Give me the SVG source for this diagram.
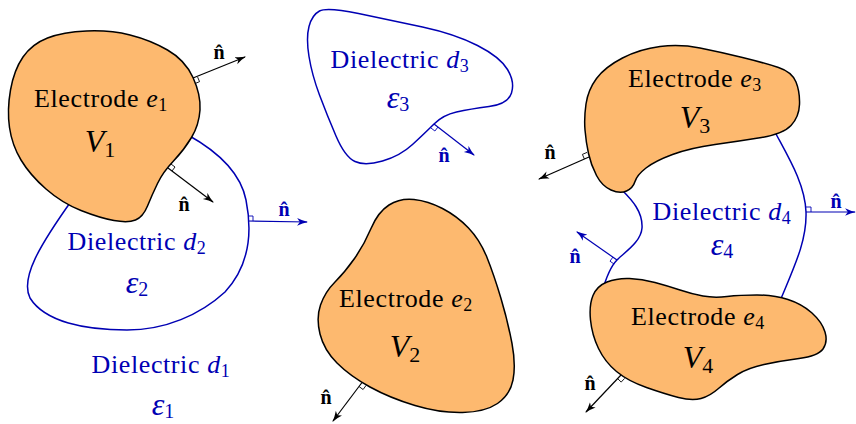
<svg xmlns="http://www.w3.org/2000/svg" width="856" height="424" viewBox="0 0 856 424" font-family="'Liberation Serif', 'DejaVu Serif', serif">
<style>
.el{fill:#fdb96f;stroke:#000;stroke-width:1.5;stroke-linejoin:round}
.di{fill:none;stroke:#0000b3;stroke-width:1.5}
.t{font-size:26px;text-anchor:middle;letter-spacing:0.6px}
.v{font-size:32px;text-anchor:middle}
.k{fill:#000}
.b{fill:#0000b3}
.i{font-style:italic}
.n{font-size:20px;font-weight:bold;text-anchor:middle}
.nk{fill:none;stroke:#000;stroke-width:1.2}
.nb{fill:none;stroke:#0000b3;stroke-width:1.2}
.sq{fill:none;stroke-width:0.9}
</style>
<defs>
<marker id="ak" viewBox="0 0 10 8" refX="9" refY="4" markerWidth="11" markerHeight="9" markerUnits="userSpaceOnUse" orient="auto"><path d="M0,0.5 Q5,3 10,4 Q5,5 0,7.5 L2.5,4 z" fill="#000"/></marker>
<marker id="ab" viewBox="0 0 10 8" refX="9" refY="4" markerWidth="11" markerHeight="9" markerUnits="userSpaceOnUse" orient="auto"><path d="M0,0.5 Q5,3 10,4 Q5,5 0,7.5 L2.5,4 z" fill="#0000b3"/></marker>
</defs>

<g id="d2">
<path class="di" d="M188,135 C215,150 240,170 246,200 C252,230 250,265 225,292 C200,315 165,330 127,330 C85,330 45,322 30,298 C20,278 40,245 72,200"/>
<text class="t b" x="137" y="250">Dielectric <tspan class="i">d</tspan><tspan font-size="18" dy="4">2</tspan></text>
<text class="v b" x="137" y="293" font-size="28"><tspan class="i">ε</tspan><tspan font-size="20" dy="3">2</tspan></text>
</g>

<g id="d4">
<path class="di" d="M622,190 C632,200 643,212 642,228 C641,242 625,252 617,260 C610,267 606,278 602,292"/>
<path class="di" d="M776,134 C790,160 805,185 806,212 C807,240 795,265 780,301"/>
<text class="t b" x="722" y="220">Dielectric <tspan class="i">d</tspan><tspan font-size="18" dy="4">4</tspan></text>
<text class="v b" x="722" y="255" font-size="28"><tspan class="i">ε</tspan><tspan font-size="20" dy="3">4</tspan></text>
</g>

<g id="e1">
<path class="el" d="M47.5,38 Q63,32 86.5,31 Q110,30 130,35 Q150,40 167.5,50 Q185,60 193,77.5 Q201,95 200,110 Q199,125 191.5,137.5 Q184,150 173.5,161 Q163,172 157.5,183.5 Q152,195 147.5,206 Q143,217 135.5,220 Q128,223 114,220.5 Q100,218 81,210.5 Q62,203 46,189 Q30,175 21,160 Q12,145 9.5,127.5 Q7,110 10.5,90 Q14,70 23,57 Q32,44 47.5,38 Z"/>
<text class="t k" x="101" y="107">Electrode <tspan class="i">e</tspan><tspan font-size="18" dy="4">1</tspan></text>
<text class="v k" x="100" y="152"><tspan class="i">V</tspan><tspan font-size="22" dy="5">1</tspan></text>
</g>

<g id="e2">
<path class="el" d="M414,199.5 Q400,198 389,205 Q378,212 371,228.5 Q364,245 354.5,258.5 Q345,272 335,282 Q325,292 320.5,305 Q316,318 320,334 Q324,350 337,363 Q350,376 370,387 Q390,398 415,405.5 Q440,413 462.5,412.5 Q485,412 497.5,403.5 Q510,395 513,380 Q516,365 512,343.5 Q508,322 501,298.5 Q494,275 487,257.5 Q480,240 468.5,228 Q457,216 442.5,208.5 Q428,201 414,199.5 Z"/>
<text class="t k" x="406" y="307">Electrode <tspan class="i">e</tspan><tspan font-size="18" dy="4">2</tspan></text>
<text class="v k" x="405" y="357"><tspan class="i">V</tspan><tspan font-size="22" dy="5">2</tspan></text>
</g>

<g id="e3">
<path class="el" d="M585,130 Q584,118 586,104 Q588,90 596.5,78.5 Q605,67 622.5,58 Q640,49 660,46.5 Q680,44 700,48 Q720,52 742.5,57.5 Q765,63 778.5,67.5 Q792,72 796,82 Q800,92 799.5,104.5 Q799,117 791,125.5 Q783,134 761.5,137.5 Q740,141 715,144.5 Q690,148 672.5,154.5 Q655,161 646,168 Q637,175 635,181.5 Q633,188 626.5,191 Q620,194 611,190 Q602,186 596.5,175.5 Q591,165 588.5,153.5 Q586,142 585,130 Z"/>
<text class="t k" x="695" y="87">Electrode <tspan class="i">e</tspan><tspan font-size="18" dy="4">3</tspan></text>
<text class="v k" x="695" y="128"><tspan class="i">V</tspan><tspan font-size="22" dy="5">3</tspan></text>
</g>

<g id="e4">
<path class="el" d="M590.5,320 Q589,305 593,295.5 Q597,286 607,282 Q617,278 629.5,278.5 Q642,279 655,282.5 Q668,286 680,290 Q692,294 703,296 Q714,298 727,296.5 Q740,295 757,295 Q774,295 788,299.5 Q802,304 812,313 Q822,322 825,332 Q828,342 823,349 Q818,356 799,358.5 Q780,361 764,364.5 Q748,368 737.5,374.5 Q727,381 718.5,388.5 Q710,396 701,398.5 Q692,401 678.5,397.5 Q665,394 646.5,387.5 Q628,381 616.5,371.5 Q605,362 598.5,348.5 Q592,335 590.5,320 Z"/>
<text class="t k" x="698" y="325">Electrode <tspan class="i">e</tspan><tspan font-size="18" dy="4">4</tspan></text>
<text class="v k" x="698" y="368"><tspan class="i">V</tspan><tspan font-size="22" dy="5">4</tspan></text>
</g>

<g id="d3">
<path class="di" d="M319.5,11 Q327,7 358.5,13.5 Q390,20 422.5,27 Q455,34 477.5,45.5 Q500,57 507.5,69.5 Q515,82 511.5,93 Q508,104 489,106.5 Q470,109 456.5,112 Q443,115 434,124 Q425,133 412.5,144.5 Q400,156 382.5,161 Q365,166 355,161.5 Q345,157 336,136 Q327,115 319.5,95 Q312,75 309,56.5 Q306,38 309,26.5 Q312,15 319.5,11 Z"/>
<text class="t b" x="400" y="68">Dielectric <tspan class="i">d</tspan><tspan font-size="18" dy="4">3</tspan></text>
<text class="v b" x="398" y="108" font-size="28"><tspan class="i">ε</tspan><tspan font-size="20" dy="3">3</tspan></text>
</g>

<g id="d1">
<text class="t b" x="161" y="373">Dielectric <tspan class="i">d</tspan><tspan font-size="18" dy="4">1</tspan></text>
<text class="v b" x="163" y="415" font-size="28"><tspan class="i">ε</tspan><tspan font-size="20" dy="3">1</tspan></text>
</g>

<g id="connectors">
<line class="nk" x1="193" y1="78" x2="245" y2="57" marker-end="url(#ak)"/>
<path class="sq" stroke="#000" d="M197.6,77.05 L199.55,81.65 L194.95,83.6"/>
<text class="n k" x="219" y="59">n̂</text>

<line class="nk" x1="168" y1="168" x2="213" y2="202" marker-end="url(#ak)"/>
<path class="sq" stroke="#000" d="M172,171 L175,167 L171,164"/>
<text class="n k" x="184" y="211">n̂</text>

<line class="nb" x1="248" y1="221" x2="307" y2="222" marker-end="url(#ab)"/>
<path class="sq" stroke="#0000b3" d="M253,221 L253,216 L248,216"/>
<text class="n b" x="284" y="216">n̂</text>

<line class="nb" x1="434" y1="124" x2="474" y2="155" marker-end="url(#ab)"/>
<path class="sq" stroke="#0000b3" d="M437.95,127.07 L434.9,131 L430.9,127.95"/>
<text class="n b" x="444" y="162">n̂</text>

<line class="nk" x1="362" y1="382.5" x2="333" y2="421" marker-end="url(#ak)"/>
<path class="sq" stroke="#000" d="M359.1,386.6 L363.1,389.5 L366.1,385.4"/>
<text class="n k" x="326" y="404">n̂</text>

<line class="nk" x1="589" y1="157" x2="539" y2="179" marker-end="url(#ak)"/>
<path class="sq" stroke="#000" d="M584.4,159 L582.4,154.4 L587,152.4"/>
<text class="n k" x="550" y="159">n̂</text>

<line class="nb" x1="806" y1="212" x2="855" y2="212" marker-end="url(#ab)"/>
<path class="sq" stroke="#0000b3" d="M811,212 L811,207 L806,207"/>
<text class="n b" x="836" y="208">n̂</text>

<line class="nb" x1="617" y1="260" x2="577" y2="232" marker-end="url(#ab)"/>
<path class="sq" stroke="#0000b3" d="M612.9,257.1 L610,261.2 L614.1,264.1"/>
<text class="n b" x="575" y="263">n̂</text>

<line class="nk" x1="621" y1="375" x2="586" y2="412" marker-end="url(#ak)"/>
<path class="sq" stroke="#000" d="M617.6,378.6 L621.2,382.1 L624.6,378.4"/>
<text class="n k" x="590" y="390">n̂</text>
</g>
</svg>
